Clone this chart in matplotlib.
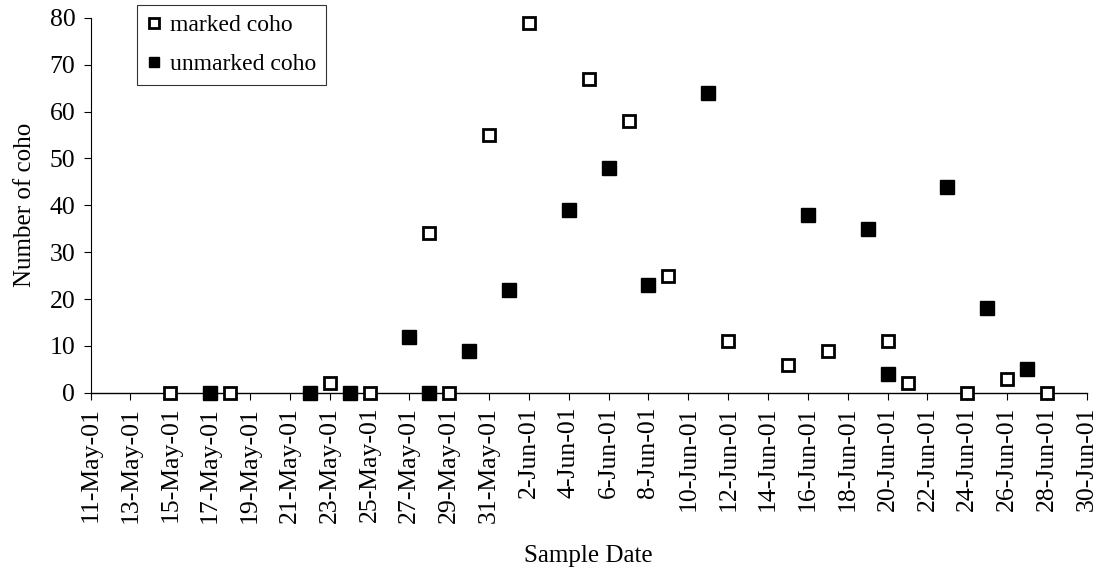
import pandas as pd
import matplotlib
matplotlib.use("Agg")
import matplotlib.pyplot as plt

# --------------------------------------------------
# Data
# --------------------------------------------------

marked_dates = ["2001-05-15", "2001-05-18", "2001-05-23", "2001-05-25", "2001-05-28",
                "2001-05-29", "2001-05-31", "2001-06-02", "2001-06-05", "2001-06-07",
                "2001-06-09", "2001-06-12", "2001-06-15", "2001-06-17", "2001-06-20",
                "2001-06-21", "2001-06-24", "2001-06-26", "2001-06-28"]
marked_counts = [0, 0, 2, 0, 34, 0, 55, 79, 67, 58, 25, 11, 6, 9, 11, 2, 0, 3, 0]

unmarked_dates = ["2001-05-17", "2001-05-22", "2001-05-24", "2001-05-27", "2001-05-28",
                  "2001-05-30", "2001-06-01", "2001-06-04", "2001-06-06", "2001-06-08",
                  "2001-06-11", "2001-06-16", "2001-06-19", "2001-06-20", "2001-06-23",
                  "2001-06-25", "2001-06-27"]
unmarked_counts = [0, 0, 0, 12, 0, 9, 22, 39, 48, 23, 64, 38, 35, 4, 44, 18, 5]

tick_dates = pd.date_range("2001-05-11", "2001-06-30", freq="2D")
tick_labels = [f"{d.day}-{d.strftime('%b-%y')}" for d in tick_dates]

# --------------------------------------------------
# Plot
# --------------------------------------------------

plt.rcParams["font.family"] = ["Liberation Serif", "DejaVu Serif"]

fig = plt.figure(figsize=(11.04, 5.76), dpi=100)
ax = fig.add_axes([0.082, 0.318, 0.9025, 0.651])

ax.plot(pd.to_datetime(marked_dates), marked_counts, linestyle="none",
        marker="s", markersize=9, markerfacecolor="white",
        markeredgecolor="black", markeredgewidth=2.0,
        label="marked coho", clip_on=False, zorder=3)
ax.plot(pd.to_datetime(unmarked_dates), unmarked_counts, linestyle="none",
        marker="s", markersize=10, markerfacecolor="black",
        markeredgecolor="black", markeredgewidth=1.0,
        label="unmarked coho", clip_on=False, zorder=3)

ax.set_xlim(tick_dates[0], tick_dates[-1])
ax.set_ylim(0, 80)
ax.set_yticks(range(0, 81, 10))
ax.set_xticks(tick_dates)
ax.set_xticklabels(tick_labels, rotation=90)

for s in ["top", "right"]:
    ax.spines[s].set_visible(False)
ax.spines["left"].set_linewidth(0.8)
ax.spines["bottom"].set_linewidth(1.0)

ax.tick_params(axis="both", direction="out", length=5, width=0.8,
               labelsize=18.5, colors="black")
ax.tick_params(axis="x", pad=5)
ax.tick_params(axis="y", pad=6)

ax.set_ylabel("Number of coho", fontsize=18, labelpad=10)
ax.set_xlabel("Sample Date", fontsize=18, labelpad=16)

leg = ax.legend(loc="upper left", bbox_to_anchor=(0.035, 1.066),
                frameon=True, fancybox=False, edgecolor="black",
                fontsize=17, markerscale=0.75, handlelength=0.6,
                handletextpad=0.4, borderpad=0.4, labelspacing=0.75)
leg.get_frame().set_linewidth(0.8)

fig.savefig("out.png", dpi=100)
